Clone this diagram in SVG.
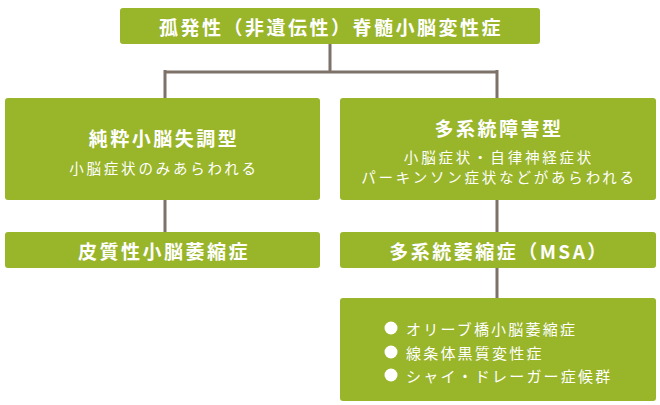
<svg xmlns="http://www.w3.org/2000/svg" width="660" height="405" viewBox="0 0 660 405">
<style>
.box{fill:#99b52a;}
.t{font-family:"Noto Sans CJK JP",sans-serif;fill:#fff;text-anchor:middle;dominant-baseline:central;}
.h{font-size:19px;font-weight:bold;letter-spacing:2.5px;}
.s{font-size:14.5px;letter-spacing:2.8px;}
.b{font-size:15px;letter-spacing:2.2px;text-anchor:start;}
.ln{stroke:#7d7168;stroke-width:3;fill:none;}
</style>
<rect width="660" height="405" fill="#fff"/>
<g id="connectors">
<path class="ln" d="M330 44V72M165 72H497M165 70V98M497 70V98M165 200V232M497 200V232M497 268V298"/>
</g>
<g id="root"><rect class="box" x="120" y="8" width="420" height="36" rx="3"/><text class="t h" x="331" y="26">孤発性（非遺伝性）脊髄小脳変性症</text></g>
<g id="pure"><rect class="box" x="5" y="98" width="315" height="102" rx="3"/><text class="t h" x="164" y="137">純粋小脳失調型</text><text class="t s" x="164" y="167">小脳症状のみあらわれる</text></g>
<g id="multi"><rect class="box" x="340" y="98" width="316" height="102" rx="3"/><text class="t h" x="499" y="127">多系統障害型</text><text class="t s" x="499" y="156">小脳症状・自律神経症状</text><text class="t s" x="499" y="176">パーキンソン症状などがあらわれる</text></g>
<g id="cca"><rect class="box" x="5" y="232" width="315" height="36" rx="3"/><text class="t h" x="164" y="250">皮質性小脳萎縮症</text></g>
<g id="msa"><rect class="box" x="340" y="232" width="316" height="36" rx="3"/><text class="t h" x="499" y="250">多系統萎縮症（MSA）</text></g>
<g id="list"><rect class="box" x="340" y="298" width="316" height="103" rx="3"/>
<circle cx="391" cy="328" r="6.5" fill="#fff"/><text class="t b" x="406" y="328">オリーブ橋小脳萎縮症</text>
<circle cx="391" cy="352" r="6.5" fill="#fff"/><text class="t b" x="406" y="352">線条体黒質変性症</text>
<circle cx="391" cy="375" r="6.5" fill="#fff"/><text class="t b" x="406" y="375">シャイ・ドレーガー症候群</text>
</g>
</svg>
